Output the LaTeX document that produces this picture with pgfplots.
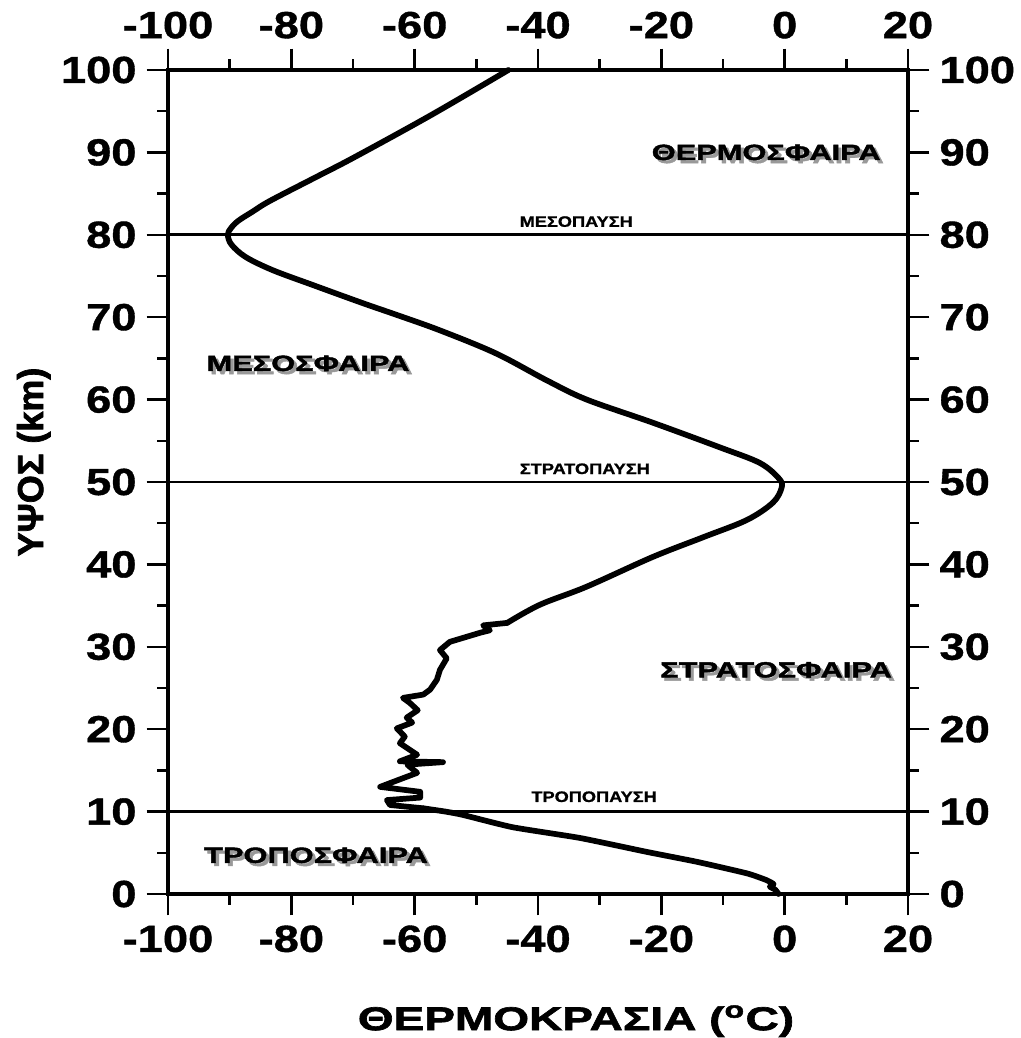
\documentclass[border=0pt]{standalone}
\usepackage{fontspec}
\setmainfont{Liberation Sans}[FakeStretch=1.2,BoldFeatures={FakeBold=1}]
\newfontfamily\blackfont{Liberation Sans Bold}[FakeStretch=1.4,FakeBold=2]
\newfontfamily\blackfontN{Liberation Sans Bold}[FakeBold=2]
\usepackage{pgfplots}
\pgfplotsset{compat=1.18}
\newcommand{\reg}[3]{%
  \node[text=black!40,inner sep=0pt] at ([xshift=1.1pt,yshift=-1.1pt]axis cs:#1,#2) {\blackfont\fontsize{7.7}{8}\selectfont #3};
  \node[inner sep=0pt] at (axis cs:#1,#2) {\blackfont\fontsize{7.7}{8}\selectfont #3};}
\newcommand{\sml}[3]{%
  \node[inner sep=0pt] at (axis cs:#1,#2) {\bfseries\fontsize{5.3}{6}\selectfont #3};}
\pgfplotsset{
  common/.style={
    scale only axis, width=259pt, height=288.4pt,
    xmin=-100, xmax=20, ymin=0, ymax=100,
    xtick={-100,-80,-60,-40,-20,0,20},
    xticklabels={-100,-80,-60,-40,-20,0,20},
    ytick={0,10,20,30,40,50,60,70,80,90,100},
    yticklabels={0,10,20,30,40,50,60,70,80,90,100},
    minor xtick={-90,-70,-50,-30,-10,10},
    minor ytick={5,15,25,35,45,55,65,75,85,95},
    tick align=outside, major tick length=7.5pt, minor tick length=3.8pt,
    ticklabel style={font=\fontsize{13.2}{14}\selectfont\bfseries},
    clip=false,
  },
  prof/.style={line width=2pt, line join=round, line cap=round, black},
}
\begin{document}
\begin{tikzpicture}
\begin{axis}[common,
  xticklabel pos=lower, yticklabel pos=left,
  tick style={line width=0.9pt, black},
  axis line style={line width=1.1pt},
]
\coordinate (SW) at (rel axis cs:0,0);
\addplot[line width=1pt] coordinates {(-100,80) (20,80)};
\addplot[line width=1pt] coordinates {(-100,50) (20,50)};
\addplot[line width=1pt] coordinates {(-100,10) (20,10)};
% troposphere
\addplot[prof, smooth, tension=0.3] table {
T z
-1.0 0
-1.5 0.5
-2.4 0.9
-1.8 1.2
-3.0 1.7
-6.1 2.5
-14.2 3.9
-22.3 5.1
-33.2 6.8
-44.1 8.1
-52.2 9.6
-55.0 10.0
-58.6 10.4
};
% lower stratosphere (jagged)
\addplot[prof] table {
T z
-58.6 10.4
-64.0 10.8
-64.5 11.4
-59.1 11.7
-59.1 12.4
-65.6 13.0
-63.5 13.6
-59.6 14.7
-61.2 15.7
-55.4 16.0
-62.4 16.1
-59.6 16.9
-62.4 18.3
-61.6 19.1
-62.9 20.1
-60.4 20.8
-61.3 21.4
-59.5 22.3
-60.8 23.2
-61.9 23.8
-58.6 24.2
-57.5 24.8
-56.4 26.0
-55.9 27.2
-54.8 28.6
-55.9 29.6
-54.3 30.6
-49.4 31.7
-47.8 32.0
-48.9 32.6
-45.0 32.9
};
% upper stratosphere, mesosphere, thermosphere
\addplot[prof, smooth, tension=0.55] table {
T z
-45.0 32.9
-39.7 35.1
-32.1 37.3
-21.4 40.9
-13.2 43.3
-6.1 45.4
-1.9 47.5
-0.5 49.3
-0.9 50.4
-4.0 52.3
-10.5 54.2
-21.4 57.2
-32.1 60.0
-38.5 62.3
-46.8 65.6
-55.9 68.4
-63.0 70.3
-68.4 71.7
-76.5 73.9
-83.0 75.7
-87.4 77.3
-89.7 78.8
-90.3 80.0
-89.8 80.8
-88.6 81.7
-86.3 82.8
-83.5 84.1
-76.0 87.0
-69.8 89.4
-57.4 94.5
-44.8 100
};
\reg{-3}{90}{ΘΕΡΜΟΣΦΑΙΡΑ}
\reg{-77.3}{64.4}{ΜΕΣΟΣΦΑΙΡΑ}
\reg{-1.4}{27.2}{ΣΤΡΑΤΟΣΦΑΙΡΑ}
\reg{-76}{4.7}{ΤΡΟΠΟΣΦΑΙΡΑ}
\sml{-33.8}{81.6}{ΜΕΣΟΠΑΥΣΗ}
\sml{-32.4}{51.6}{ΣΤΡΑΤΟΠΑΥΣΗ}
\sml{-30.9}{11.8}{ΤΡΟΠΟΠΑΥΣΗ}
\end{axis}
\begin{axis}[common,
  xticklabel pos=upper, yticklabel pos=right,
  tick style={draw=none},
  axis line style={draw=none},
]
\end{axis}
\node[inner sep=0pt] at ([xshift=142.8pt,yshift=-44.5pt]SW) {\blackfont\fontsize{11.5}{12}\selectfont ΘΕΡΜΟΚΡΑΣΙΑ (\textsuperscript{o}C)};
\node[inner sep=0pt, rotate=90] at ([xshift=-47pt,yshift=151.2pt]SW) {\blackfontN\fontsize{12.6}{13}\selectfont ΥΨΟΣ (km)};
\pgfresetboundingbox
\path[use as bounding box] ([shift={(-58.8pt,-50.4pt)}]SW) rectangle ++(357pt,363.3pt);
\end{tikzpicture}
\end{document}
